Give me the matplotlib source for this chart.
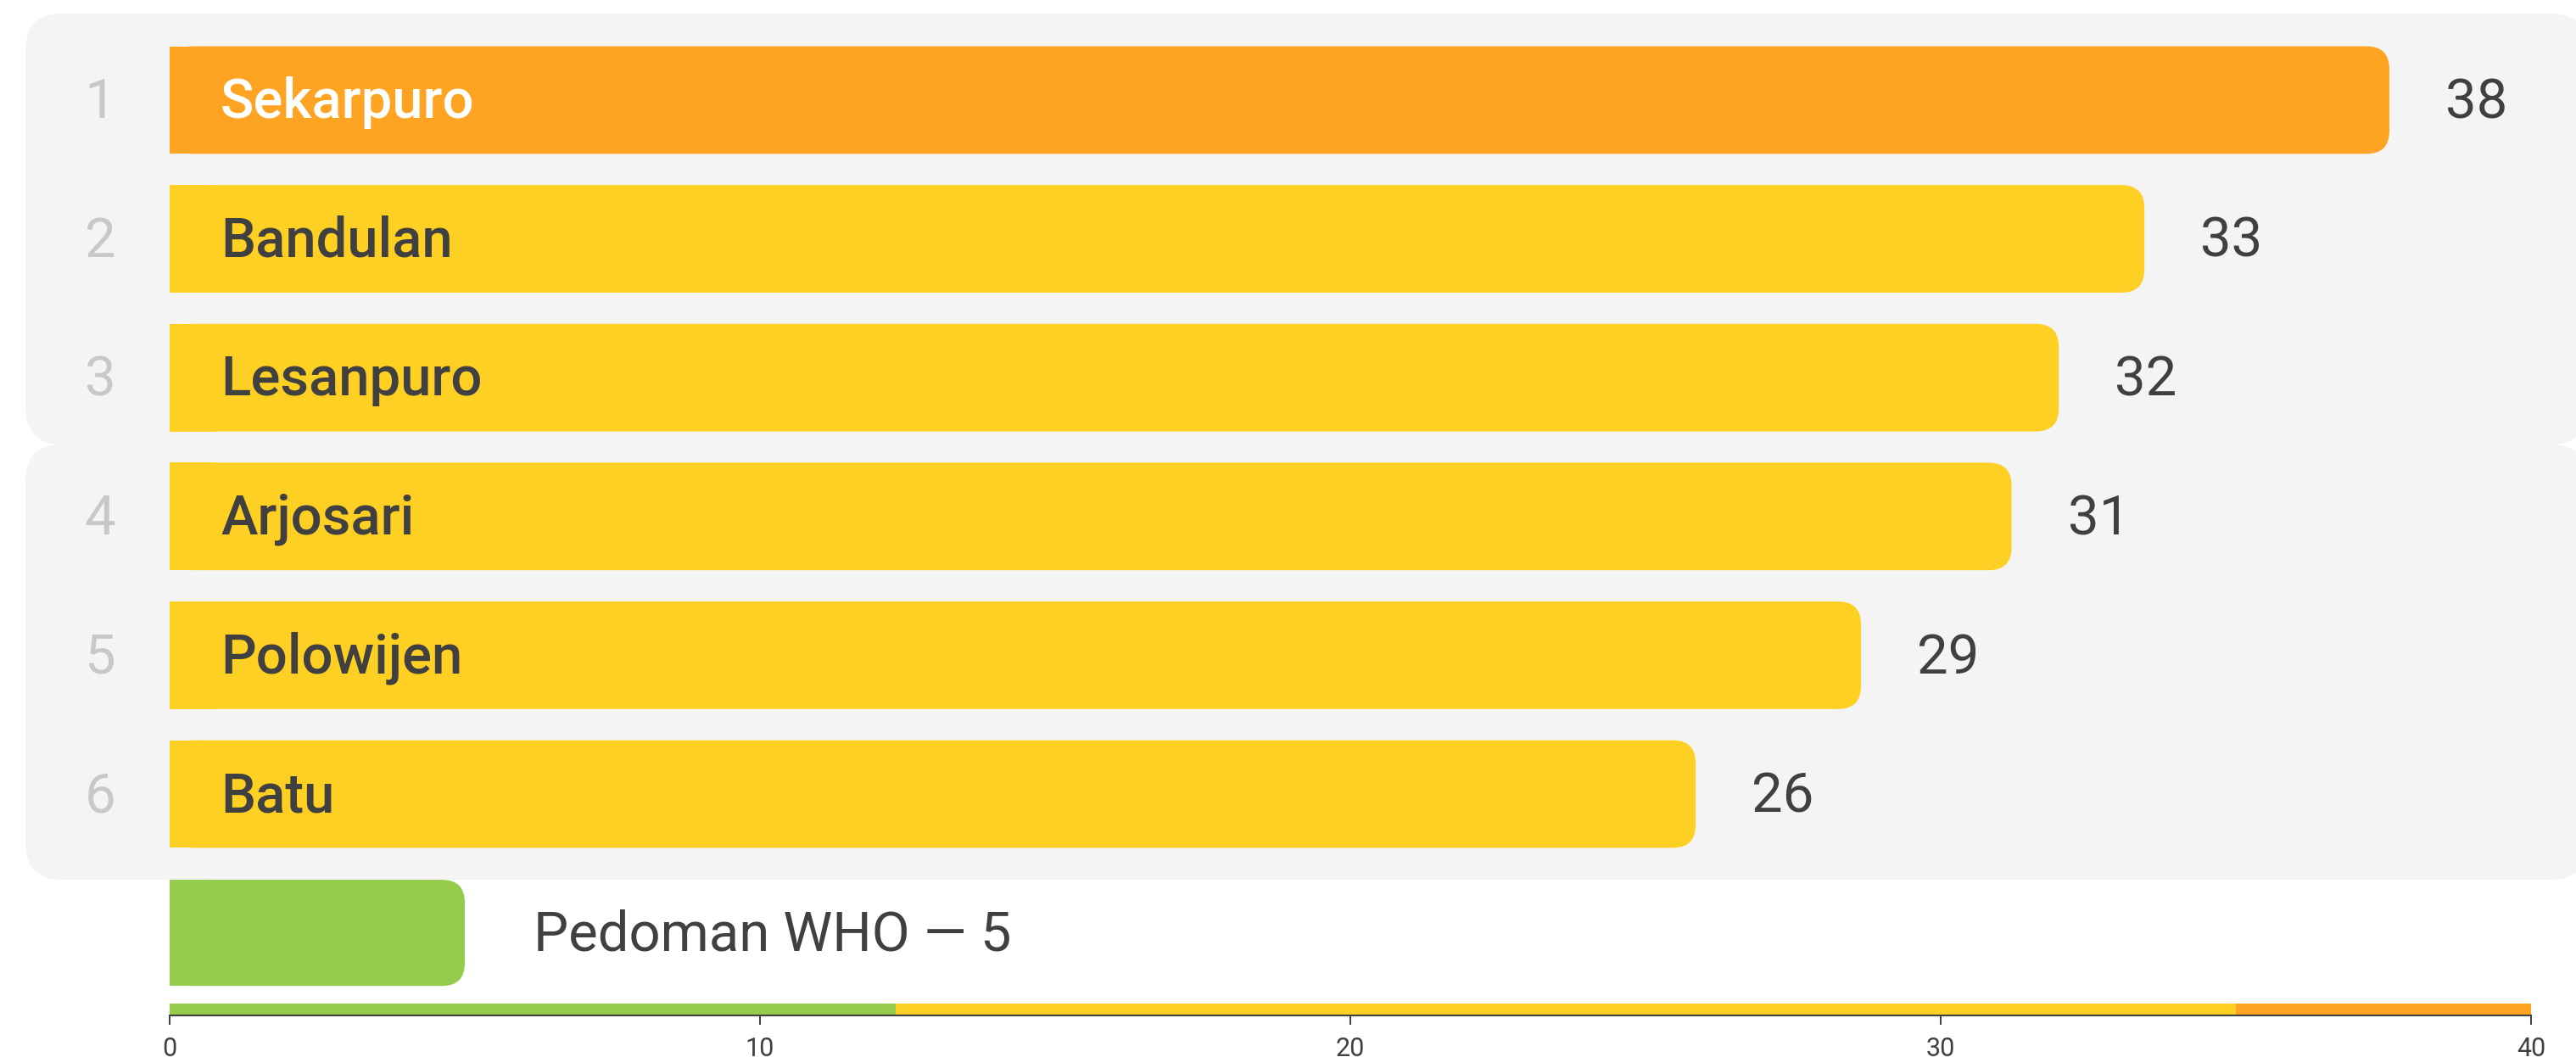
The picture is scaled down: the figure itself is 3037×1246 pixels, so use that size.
import matplotlib
matplotlib.use("Agg")
import matplotlib.pyplot as plt
from matplotlib.patches import FancyBboxPatch, Rectangle

plt.rcParams["font.family"] = ["Roboto", "DejaVu Sans"]

# data
RANKS = [1, 2, 3, 4, 5, 6]
NAMES = ["Sekarpuro", "Bandulan", "Lesanpuro", "Arjosari", "Polowijen", "Batu"]
VALUES = [37.6, 33.45, 32.0, 31.2, 28.65, 25.85]
WHO_LABEL = "Pedoman WHO"
WHO_VALUE = 5
BAND_EDGES = [0, 12.3, 35.0, 40]
TICKS = [0, 10, 20, 30, 40]

ORANGE = "#FFA322"
YELLOW = "#FFD024"
GREEN = "#95CC4C"
PANEL = "#F4F4F4"
DARK = "#404040"
RANK_GREY = "#C8C8C8"
BAND_COLORS = [GREEN, YELLOW, ORANGE]

W, H, DPI = 3037, 1246, 100
X0_PX, X1_PX = 200, 2984          # pixel span of 0..40
ROW_PX = 163.6                    # pixel height of one row
Y_TOP, Y_BOT = -0.623, 6.595      # row coordinates at top/bottom of axes
PX_X = (X1_PX - X0_PX) / 40
ASPECT = PX_X / ROW_PX            # keeps rounded corners circular
FS = 47


def rounded_right(ax, rect, r_px, zorder=2):
    """Replace a barh rectangle by one with rounded right corners."""
    x, y = rect.get_x(), rect.get_y()
    w, h = rect.get_width(), rect.get_height()
    fc = rect.get_facecolor()
    rect.remove()
    r = r_px / PX_X
    ax.add_patch(FancyBboxPatch((x, y), w, h,
                                boxstyle=f"round,pad=0,rounding_size={r}",
                                mutation_aspect=ASPECT, fc=fc, ec="none",
                                lw=0, zorder=zorder))
    ax.add_patch(Rectangle((x, y), min(w, 2 * r), h, fc=fc, ec="none",
                           lw=0, zorder=zorder))


def panel(ax, y0, y1, x0=-2.44, x1=40.95, r_px=43):
    r = r_px / PX_X
    ax.add_patch(FancyBboxPatch((x0, y0), x1 - x0, y1 - y0,
                                boxstyle=f"round,pad=0,rounding_size={r}",
                                mutation_aspect=ASPECT, fc=PANEL, ec="none",
                                lw=0, zorder=0, clip_on=False))


fig = plt.figure(figsize=(W / DPI, H / DPI), dpi=DPI, facecolor="white")
ax = fig.add_axes([X0_PX / W, (H - 1197) / H, (X1_PX - X0_PX) / W, 1181 / H])
ax.set_facecolor("none")
ax.set_xlim(0, 40)
ax.set_ylim(Y_BOT, Y_TOP)

# grey group panels
panel(ax, Y_TOP, 2.48)
panel(ax, 2.48, 5.617)

rows = list(range(len(NAMES)))
colors = [ORANGE] + [YELLOW] * (len(NAMES) - 1)
bars = ax.barh(rows, VALUES, height=0.775, color=colors, zorder=2)
for rect in list(bars):
    rounded_right(ax, rect, 27)

who = ax.barh([len(NAMES)], [WHO_VALUE], height=0.765, color=GREEN, zorder=2)
for rect in list(who):
    rounded_right(ax, rect, 27)

for i, (rank, name, val) in enumerate(zip(RANKS, NAMES, VALUES)):
    ax.text(-1.18, i + 0.02, str(rank), ha="center", va="center", fontsize=FS,
            fontweight="normal", color=RANK_GREY, clip_on=False)
    ax.text(60 / PX_X, i + 0.02, name, ha="left", va="center", fontsize=FS,
            fontweight="medium", color="white" if i == 0 else DARK, zorder=3)
    ax.text(val + 0.95, i + 0.02, f"{round(val)}", ha="left", va="center",
            fontsize=FS, color=DARK, zorder=3)

ax.text(WHO_VALUE + 1.16, len(NAMES) + 0.02, f"{WHO_LABEL} \u2014 {WHO_VALUE}",
        ha="left", va="center", fontsize=FS, color=DARK, zorder=3)

# colour scale strip sitting on the axis
for lo, hi, c in zip(BAND_EDGES[:-1], BAND_EDGES[1:], BAND_COLORS):
    ax.barh([6.552], [hi - lo], left=[lo], height=0.086, color=c,
            zorder=2, clip_on=False)

for side in ["top", "right", "left"]:
    ax.spines[side].set_visible(False)
ax.spines["bottom"].set_color(DARK)
ax.spines["bottom"].set_linewidth(1.5)
ax.spines["bottom"].set_zorder(4)
ax.set_yticks([])
ax.set_xticks(TICKS)
ax.tick_params(axis="x", length=8, width=1.4, color=DARK, labelcolor=DARK,
               labelsize=22, pad=10)

fig.savefig("out.png", dpi=DPI)
